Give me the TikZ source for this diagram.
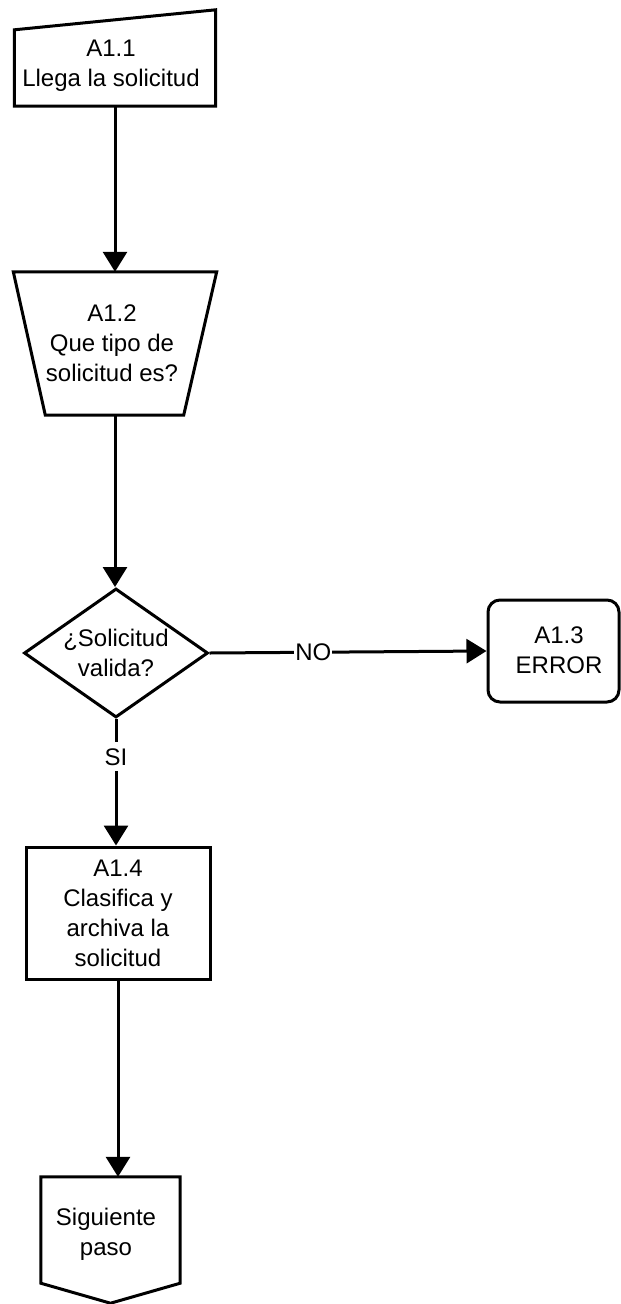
\documentclass[tikz,border=0pt]{standalone}
\usepackage{fontspec}
\setmainfont{Liberation Sans}
\usetikzlibrary{arrows.meta,shapes.geometric}

\tikzset{
  outline/.style={line width=3pt, line join=miter},
  frame/.style={inner sep=0pt, minimum width=#1},
  flow/.style={line width=3pt, -{Triangle[length=20pt,width=24pt]}},
  txt/.style={font=\fontsize{24}{30}\selectfont, align=center, inner sep=0pt},
  lbl/.style={font=\fontsize{24}{30}\selectfont, fill=white, inner xsep=1pt},
}

\begin{document}
\begin{tikzpicture}[x=1pt, y=-1pt]
\useasboundingbox (0,0) rectangle (621,1304);

% A1.1 -- manual input (sloped top)
\node[frame=201pt, minimum height=96pt] (n1) at (115,58) {};
\draw[outline] (n1.south west) -- (n1.south east) -- (n1.north east)
  -- ([yshift=-20pt]n1.north west) -- cycle;
\node[txt] (t1) at (111,66) {A1.1\\Llega la solicitud};

% A1.2 -- manual operation (inverted trapezium)
\node[frame=203pt, minimum height=143pt] (n2) at (115,343.5) {};
\draw[outline] (n2.north west) -- (n2.north east)
  -- ([xshift=-33pt]n2.south east) -- ([xshift=32pt]n2.south west) -- cycle;
\node[txt] (t2) at (112,343) {A1.2\\Que tipo de\\solicitud es?};

% decision
\node[txt, diamond, draw, outline, minimum width=184pt, minimum height=129pt,
      aspect=1.43] (d) at (116,653) {¿Solicitud\\valida?};

% A1.3 -- terminal error
\node[draw, outline, rounded corners=12pt, minimum width=131pt,
      minimum height=102pt] (e) at (553.5,651) {};
\node[txt] (te) at (559,650.5) {A1.3\\ERROR};

% A1.4 -- process
\node[txt, draw, outline, minimum width=184pt, minimum height=132pt]
      (n4) at (118,913) {A1.4\\Clasifica y\\archiva la\\solicitud};

% off-page connector
\node[frame=139pt, minimum height=126pt] (n5) at (110.5,1240) {};
\draw[outline] (n5.north west) -- (n5.north east)
  -- ([yshift=20pt]n5.south east) -- (n5.south)
  -- ([yshift=20pt]n5.south west) -- cycle;
\node[txt] (t5) at (106,1234) {Siguiente\\paso};

% connectors
\draw[flow] (n1.south) -- (n2.north);
\draw[flow] (n2.south) -- (n2.south |- d.north);
\draw[flow] (d.east) -- node[lbl, pos=0.375] {NO} (e.west);
\draw[flow] (d.south) -- node[lbl, pos=0.3, inner ysep=6pt] {SI} (d.south |- n4.north);
\draw[flow] (n4.south) -- (n4.south |- n5.north);
\end{tikzpicture}
\end{document}
